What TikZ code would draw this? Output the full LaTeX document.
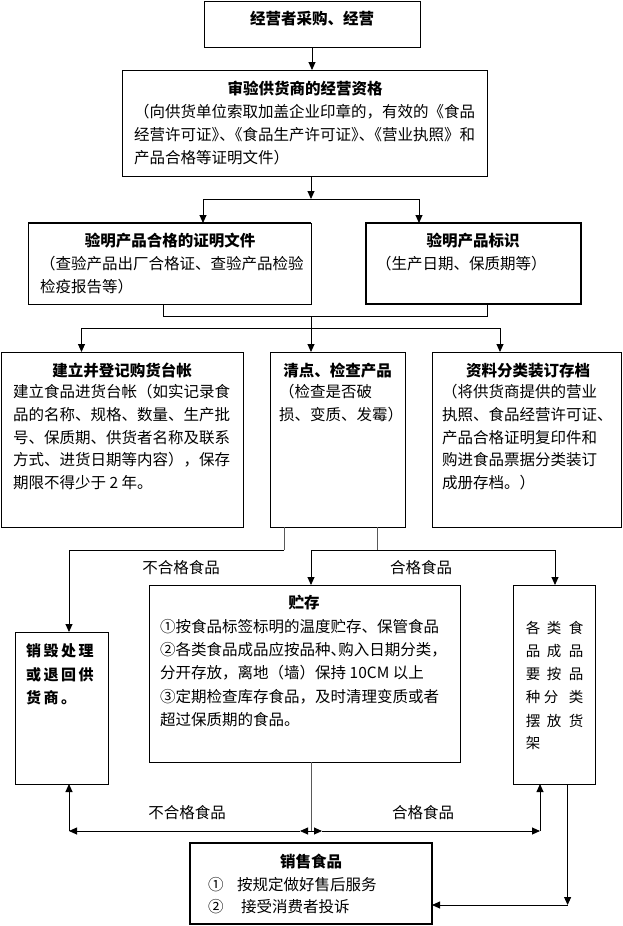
\documentclass[tikz,border=0pt]{standalone}
\usepackage{fontspec}
\setmainfont{Noto Sans CJK SC}
\usetikzlibrary{arrows.meta}
\newcommand\myfs{\fontsize{15.5pt}{23pt}\selectfont}
\newcommand\hw[1]{{\addfontfeature{RawFeature=+halt}#1}}
\newcommand\ks{\kern2.5pt}
\begin{document}
\begin{tikzpicture}[x=1pt,y=-1pt,
  box/.style={draw,line width=0.9pt,inner sep=0pt,outer sep=0pt,anchor=north west},
  tbox/.style={box,line width=1.8pt},
  ttl/.style={font=\myfs\bfseries,inner sep=0pt,text height=13.6pt,text depth=1.9pt},
  txt/.style={font=\myfs,inner sep=0pt,anchor=west,text height=13.6pt,text depth=1.9pt},
  lbl/.style={txt,anchor=center},
  btxt/.style={font=\fontsize{15pt}{23pt}\selectfont\bfseries,inner sep=0pt,anchor=west,text height=13.2pt,text depth=1.8pt},
  cgl/.style={font=\fontsize{14.5pt}{23pt}\selectfont,inner sep=0pt,anchor=center},
  ln/.style={line width=0.9pt},
  gln/.style={line width=0.9pt,black!65},
  arr/.style={line width=0.9pt,-{Triangle[length=8pt,width=7pt]}}]
\useasboundingbox (0,0) rectangle (623,926);

% boxes
\node[box,minimum width=216pt,minimum height=46pt] (b1) at (204,1) {};
\node[box,minimum width=365pt,minimum height=106pt] (b2) at (122,70) {};
\node[box,minimum width=283pt,minimum height=81pt] (b3a) at (28,223) {};
\node[tbox,minimum width=215pt,minimum height=81pt] (b3b) at (366,223) {};
\node[box,minimum width=242pt,minimum height=175pt] (b4a) at (1,352) {};
\node[box,minimum width=135pt,minimum height=175pt] (b4b) at (270,352) {};
\node[box,minimum width=189pt,minimum height=175pt] (b4c) at (432,352) {};
\node[box,minimum width=311pt,minimum height=177pt] (bst) at (149,585) {};
\node[box,minimum width=93pt,minimum height=152pt] (b5a) at (15,632) {};
\node[box,minimum width=82pt,minimum height=199pt] (b5c) at (513,585) {};
\node[tbox,minimum width=242pt,minimum height=81pt] (b6) at (190,843) {};
\draw[line width=1.8pt] (b3a.north west) -- (b3a.north east);

% texts
\node[ttl] (t1) at (312,19) {经营者采购、经营};
\node[ttl] (t2) at (305,89) {审验供货商的经营资格};
\node[txt] (t2a) at (134,112) {（向供货单位索取加盖企业印章的，有效的《食品};
\node[txt] (t2b) at (134,135) {经营许可证\hw{》、}《食品生产许可证\hw{》、}《营业执照》和};
\node[txt] (t2c) at (134,158) {产品合格等证明文件）};

\node[ttl] (t3a) at (170,241) {验明产品合格的证明文件};
\node[txt] (t3a1) at (40,264) {（查验产品出厂合格证、查验产品检验};
\node[txt] (t3a2) at (40,287) {检疫报告等）};
\node[ttl] (t3b) at (473,241) {验明产品标识};
\node[txt] (t3b1) at (376,264) {（生产日期、保质期等）};

\node[ttl] (t4a) at (122,371) {建立并登记购货台帐};
\node[txt] (t4a1) at (13,392) {建立食品进货台帐（如实记录食};
\node[txt] (t4a2) at (13,415) {品的名称、规格、数量、生产批};
\node[txt] (t4a3) at (13,438) {号、保质期、供货者名称及联系};
\node[txt] (t4a4) at (13,460) {方式、进货日期等内容），保存};
\node[txt] (t4a5) at (13,483) {期限不得少于 2 年。};

\node[ttl] (t4b) at (337.5,371) {清点、检查产品};
\node[txt] (t4b1) at (279,392) {（检查是否破};
\node[txt] (t4b2) at (279,415) {损、变质、发霉）};

\node[ttl] (t4c) at (528,371) {资料分类装订存档};
\node[txt] (t4c1) at (442,392) {（将供货商提供的营业};
\node[txt] (t4c2) at (442,415) {执照、食品经营许可证、};
\node[txt] (t4c3) at (442,438) {产品合格证明复印件和};
\node[txt] (t4c4) at (442,460) {购进食品票据分类装订};
\node[txt] (t4c5) at (442,483) {成册存档。）};

\node[ttl] (tst) at (304,603) {贮存};
\node[txt] (tst1) at (160,627) {①按食品标签标明的温度贮存、保管食品};
\node[txt] (tst2) at (160,650) {②各类食品成品应按品种\hw{、}购入日期分类，};
\node[txt] (tst3) at (160,673) {分开存放，离地（墙）保持 10CM 以上};
\node[txt] (tst4) at (160,697) {③定期检查库存食品，及时清理变质或者};
\node[txt] (tst5) at (160,720) {超过保质期的食品。};

\node[btxt] (t5a1) at (26,651) {销\ks 毁\ks 处\ks 理};
\node[btxt] (t5a2) at (26,675) {或\ks 退\ks 回\ks 供};
\node[btxt] (t5a3) at (26,698) {货\ks 商\ks 。};

\foreach \ch/\cx/\cy [count=\i] in {各/533/628,类/554/628,食/576/628,
  品/533/651,成/554/651,品/576/651,
  要/533/674,按/554/674,品/576/674,
  种/533/697,分/551/697,类/576/697,
  摆/533/721,放/554/721,货/576/721,
  架/533/743}
  \node[cgl] (c\i) at (\cx,\cy) {\ch};

\node[ttl] (t6) at (311,862) {销售食品};
\node[txt] (t6n1) at (208,885) {①};
\node[txt] (t6a) at (237,885) {按规定做好售后服务};
\node[txt] (t6n2) at (208,907) {②};
\node[txt] (t6b) at (241,907) {接受消费者投诉};

% labels
\node[lbl] (l1) at (181,568) {不合格食品};
\node[lbl] (l2) at (421,568) {合格食品};
\node[lbl] (l3) at (187,813) {不合格食品};
\node[lbl] (l4) at (423,813) {合格食品};

% connectors
\draw[arr] (b1.south) -- (b1.south |- b2.north);
\coordinate (j1) at (311,199);
\coordinate (j1l) at (203,199);
\coordinate (j1r) at (419,199);
\draw[arr] (j1 |- b2.south) -- (j1);
\draw[ln] (j1l) -- (j1r);
\draw[arr] (j1l) -- (j1l |- b3a.north);
\draw[arr] (j1r) -- (j1r |- b3b.north);

\coordinate (k1) at (163,316);
\coordinate (k2) at (487,316);
\coordinate (k0) at (311,316);
\coordinate (m0) at (311,328);
\coordinate (ml) at (81.5,328);
\coordinate (mr) at (500,328);
\draw[ln] (k1 |- b3a.south) -- (k1) -- (k2) -- (k2 |- b3b.south);
\draw[ln] (k0) -- (m0);
\draw[ln] (ml) -- (mr);
\draw[arr] (ml) -- (ml |- b4a.north);
\draw[arr] (m0) -- (m0 |- b4b.north);
\draw[arr] (mr) -- (mr |- b4c.north);

\coordinate (n1) at (284,550);
\coordinate (n1l) at (69,550);
\draw[gln] (n1 |- b4b.south) -- (n1);
\draw[ln] (n1) -- (n1l);
\draw[arr] (n1l) -- (n1l |- b5a.north);
\coordinate (n2) at (377.6,550);
\coordinate (n2l) at (311,550);
\coordinate (n2r) at (555,550);
\draw[gln] (n2 |- b4b.south) -- (n2);
\draw[ln] (n2l) -- (n2r);
\draw[arr] (n2l) -- (n2l |- bst.north);
\draw[arr] (n2r) -- (n2r |- b5c.north);

\coordinate (J) at (311,831);
\coordinate (Jl) at (300,831);
\coordinate (Jr) at (322,831);
\coordinate (L) at (69,831);
\coordinate (R) at (540,831);
\draw[gln] (J |- bst.south) -- (J);
\draw[arr] (J) -- (Jl);
\draw[arr] (Jl) -- (L);
\draw[arr] (J) -- (Jr);
\draw[arr] (Jr) -- (R);
\draw[arr] (L) -- (L |- b5a.south);
\draw[arr] (R) -- (R |- b5c.south);

\coordinate (q) at (567.6,905);
\draw[arr] (q |- b5c.south) -- (q);
\draw[arr] (q) -- (q -| b6.east);
\end{tikzpicture}
\end{document}
